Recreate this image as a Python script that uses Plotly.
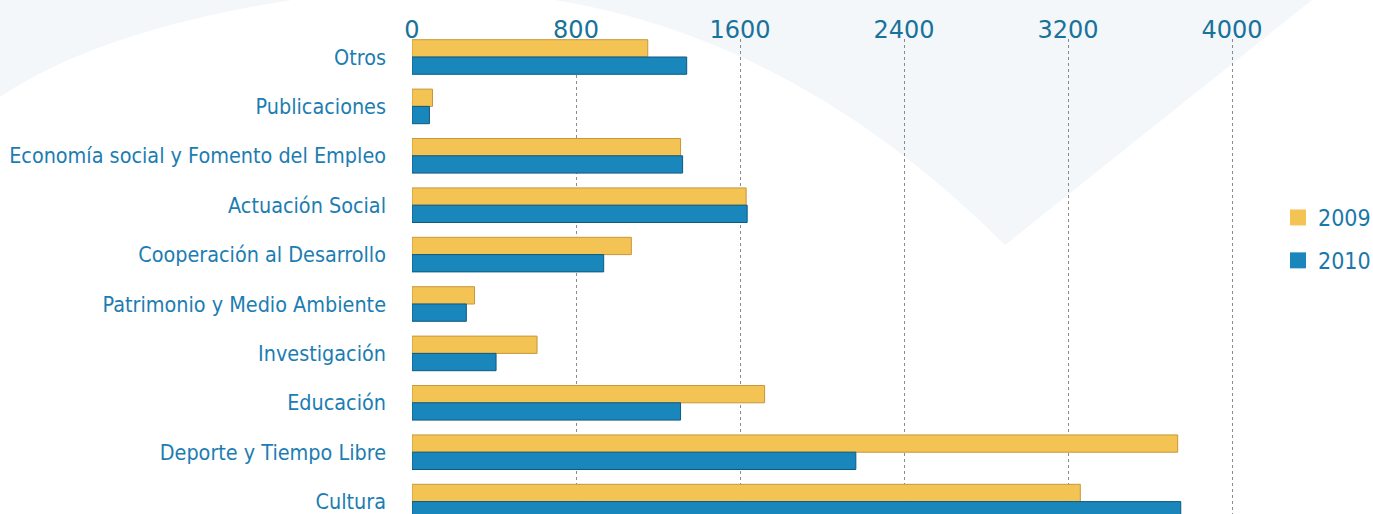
import plotly.graph_objects as go

# Categories (top to bottom) and yearly amounts
categories = [
    "Otros",
    "Publicaciones",
    "Economía social y Fomento del Empleo",
    "Actuación Social",
    "Cooperación al Desarrollo",
    "Patrimonio y Medio Ambiente",
    "Investigación",
    "Educación",
    "Deporte y Tiempo Libre",
    "Cultura",
]
values_2009 = [1150, 100, 1310, 1630, 1070, 305, 610, 1720, 3735, 3260]
values_2010 = [1340, 85, 1320, 1635, 935, 265, 410, 1310, 2165, 3750]
tick_values = [0, 800, 1600, 2400, 3200, 4000]

series = [
    ("2009", values_2009, "#f3c353", "#c9963a"),
    ("2010", values_2010, "#1a87bc", "#0d5a80"),
]

W, H = 1373, 514
ML, MR, MT, MB = 412, 113, 39, 0
PW, PH = W - ML - MR, H - MT - MB
ROW = 49.4        # pixels per category row
FIRST_ROW = 57    # pixel centre of the first category
LABEL_FONT = "DejaVu Sans Condensed, Liberation Sans Narrow, sans-serif"


def px(x):
    return (x - ML) / PW


def py(y):
    return 1 - (y - MT) / PH


def path(points):
    # points: list of (command, x0, y0, ...) in pixels
    out = []
    for cmd, *c in points:
        coords = [f"{px(c[i]):.4f},{py(c[i + 1]):.4f}" for i in range(0, len(c), 2)]
        out.append(cmd + " ".join(coords))
    return " ".join(out) + " Z"


fig = go.Figure()
for name, vals, fill, edge in series:
    fig.add_trace(go.Bar(
        y=categories, x=vals, name=name, orientation="h",
        legendgroup=name, showlegend=False,
        marker=dict(color=fill, line=dict(color=edge, width=1)),
    ))
# Square legend swatches
for name, vals, fill, edge in series:
    fig.add_trace(go.Scatter(
        x=[None], y=[None], mode="markers", name=name, legendgroup=name,
        marker=dict(symbol="square", size=17, color=fill),
    ))

bg = "#f3f7fa"
shapes = [
    dict(type="path", xref="paper", yref="paper", layer="below",
         path=path([("M", 0, 0), ("L", 292, 0), ("Q", 100, 30, 0, 97)]),
         fillcolor=bg, line=dict(width=0)),
    dict(type="path", xref="paper", yref="paper", layer="below",
         path=path([("M", 555, 0), ("Q", 800, 40, 1005, 245), ("L", 1312, 0)]),
         fillcolor=bg, line=dict(width=0)),
]

top_units = (FIRST_ROW - MT) / ROW
fig.update_layout(
    width=W, height=H,
    margin=dict(l=ML, r=MR, t=MT, b=MB, autoexpand=False),
    paper_bgcolor="white",
    plot_bgcolor="rgba(0,0,0,0)",
    barmode="group",
    bargap=0.3,
    bargroupgap=0.0,
    shapes=shapes,
    showlegend=True,
    legend=dict(
        x=px(1278), y=py(196), xanchor="left", yanchor="top",
        font=dict(family=LABEL_FONT, size=23, color="#1a78aa"),
        bgcolor="rgba(0,0,0,0)",
        tracegroupgap=10,
        traceorder="grouped",
        itemwidth=30,
    ),
    xaxis=dict(
        side="top",
        range=[0, 4000 * PW / (1232 - ML)],
        tickvals=tick_values,
        ticktext=[str(v) for v in tick_values],
        tickfont=dict(family="DejaVu Sans, sans-serif", size=24, color="#18729a"),
        ticklabelstandoff=-5,
        showgrid=True,
        gridcolor="#8a8a8a",
        griddash="dot",
        gridwidth=1,
        zeroline=False,
        showline=False,
        ticks="",
        automargin=False,
    ),
    yaxis=dict(
        type="category",
        categoryorder="array",
        categoryarray=categories,
        range=[-top_units + PH / ROW, -top_units],
        tickfont=dict(family=LABEL_FONT, size=21.4, color="#1c7db2"),
        ticks="",
        ticklabelstandoff=25,
        showgrid=False,
        showline=False,
        zeroline=False,
        automargin=False,
    ),
)

fig.write_html("out.html")
